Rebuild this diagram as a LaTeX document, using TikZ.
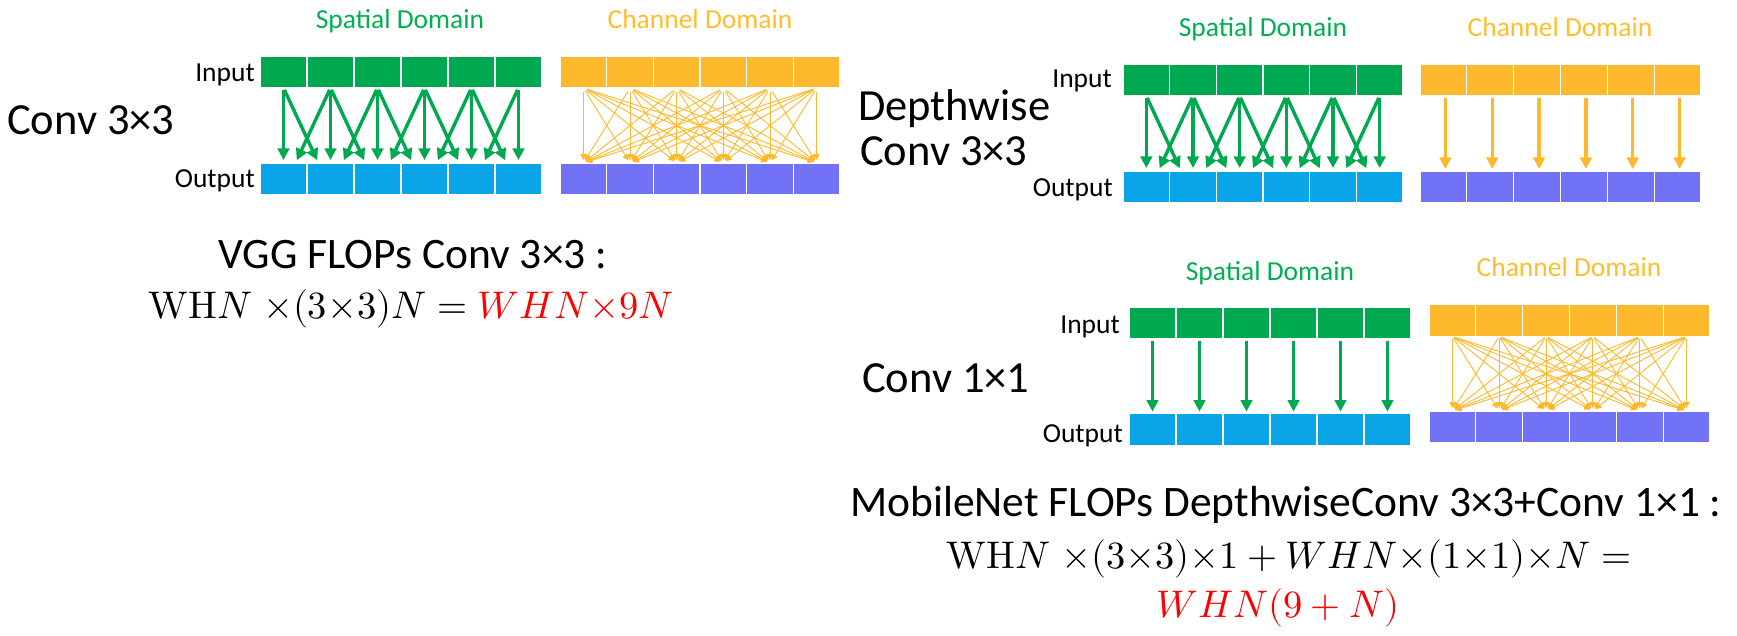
\documentclass[tikz,border=0pt]{standalone}
\usepackage{fontspec}
\usepackage{unicode-math}
\setmainfont{Carlito}
\usetikzlibrary{arrows.meta}
\definecolor{gbar}{HTML}{00A84F}
\definecolor{bbar}{HTML}{0AA5E8}
\definecolor{obar}{HTML}{FDB92B}
\definecolor{pbar}{HTML}{7272F7}
\definecolor{gtext}{HTML}{00B050}
\definecolor{otext}{HTML}{FFBE2E}
\begin{document}
\begin{tikzpicture}[x=1pt,y=-1pt,
  cell/.style={rectangle, minimum height=32pt, inner sep=0pt, outer sep=0pt, draw=white, line width=1.2pt},
  lbl/.style={font=\fontsize{27.5}{31}\selectfont, inner sep=0pt},
  big/.style={font=\fontsize{44.5}{50}\selectfont, inner sep=0pt},
  ftext/.style={font=\fontsize{43.5}{48}\selectfont, inner sep=0pt},
  fmath/.style={font=\fontsize{38.5}{44}\selectfont, inner sep=0pt},
  bigarrow/.style={line width=3.4pt, -{Triangle[width=11.5pt,length=11.5pt]}},
  finearrow/.style={line width=0.9pt, obar, -{Triangle[width=6pt,length=6pt]}},
]
\useasboundingbox (0,0) rectangle (1737,636);
% ---------- bars ----------
\foreach \i in {1,...,6} {
  % panel 1
  \node[cell, fill=gbar, minimum width=47pt] (As\i) at ({260+47*(\i-0.5)},72) {};
  \node[cell, fill=bbar, minimum width=47pt] (Bs\i) at ({260+47*(\i-0.5)},179) {};
  \node[cell, fill=obar, minimum width=46.7pt] (Ac\i) at ({560+46.67*(\i-0.5)},72) {};
  \node[cell, fill=pbar, minimum width=46.7pt] (Bc\i) at ({560+46.67*(\i-0.5)},179) {};
  % panel 2
  \node[cell, fill=gbar, minimum width=46.7pt] (Cs\i) at ({1123+46.67*(\i-0.5)},80) {};
  \node[cell, fill=bbar, minimum width=46.7pt] (Ds\i) at ({1123+46.67*(\i-0.5)},187) {};
  \node[cell, fill=obar, minimum width=46.8pt] (Cc\i) at ({1420+46.83*(\i-0.5)},80) {};
  \node[cell, fill=pbar, minimum width=46.8pt] (Dc\i) at ({1420+46.83*(\i-0.5)},187) {};
  % panel 3
  \node[cell, fill=gbar, minimum width=47pt] (Es\i) at ({1129+47*(\i-0.5)},323) {};
  \node[cell, fill=bbar, minimum width=47pt] (Fs\i) at ({1129+47*(\i-0.5)},429.5) {};
  \node[cell, fill=obar, minimum width=46.8pt] (Ec\i) at ({1429+46.83*(\i-0.5)},320.5) {};
  \node[cell, fill=pbar, minimum width=46.8pt] (Fc\i) at ({1429+46.83*(\i-0.5)},427) {};
}
% ---------- panel 1 arrows ----------
\foreach \i in {1,...,6}
  \draw[bigarrow, gbar, shorten <=2pt, shorten >=3pt] (As\i.south) -- (Bs\i.north);
\foreach \i [evaluate=\i as \j using int(\i+1)] in {1,...,5} {
  \draw[bigarrow, gbar, shorten <=2pt, shorten >=3pt] (As\i.south) -- ([xshift=-12pt]Bs\j.north);
  \draw[bigarrow, gbar, shorten <=2pt, shorten >=3pt] (As\j.south) -- ([xshift=12pt]Bs\i.north);
}
\foreach \i in {1,...,6}
  \foreach \j in {1,...,6}
    \draw[finearrow, shorten <=4pt, shorten >=3pt] (Ac\i.south) -- (Bc\j.north);
% ---------- panel 2 arrows ----------
\foreach \i in {1,...,6}
  \draw[bigarrow, gbar, shorten <=2pt, shorten >=3pt] (Cs\i.south) -- (Ds\i.north);
\foreach \i [evaluate=\i as \j using int(\i+1)] in {1,...,5} {
  \draw[bigarrow, gbar, shorten <=2pt, shorten >=3pt] (Cs\i.south) -- ([xshift=-12pt]Ds\j.north);
  \draw[bigarrow, gbar, shorten <=2pt, shorten >=3pt] (Cs\j.south) -- ([xshift=12pt]Ds\i.north);
}
\foreach \i in {1,...,6}
  \draw[bigarrow, obar, shorten <=2.5pt, shorten >=2pt] ([xshift=2pt]Cc\i.south) -- ([xshift=2pt]Dc\i.north);
% ---------- panel 3 arrows ----------
\foreach \i in {1,...,6}
  \draw[bigarrow, gbar, shorten <=2pt, shorten >=2pt] (Es\i.south) -- (Fs\i.north);
\foreach \i in {1,...,6}
  \foreach \j in {1,...,6}
    \draw[finearrow, shorten <=2pt, shorten >=3pt] (Ec\i.south) -- (Fc\j.north);
% ---------- labels ----------
\node[lbl, anchor=base, text=gtext] (t1s) at (400,29) {Spatial Domain};
\node[lbl, anchor=base, text=otext] (t1c) at (700,29) {Channel Domain};
\node[lbl, anchor=base east] (in1) at (255,82) {Input};
\node[lbl, anchor=base east] (out1) at (255,188) {Output};
\node[big, anchor=base west] (conv33) at (7,135) {Conv 3×3};

\node[lbl, anchor=base, text=gtext] (t2s) at (1263,37) {Spatial Domain};
\node[lbl, anchor=base, text=otext] (t2c) at (1560,37) {Channel Domain};
\node[lbl, anchor=base east] (in2) at (1112,88) {Input};
\node[lbl, anchor=base east] (out2) at (1113,197) {Output};
\node[big, anchor=base west] (dw1) at (858,121) {Depthwise};
\node[big, anchor=base west] (dw2) at (860,166) {Conv 3×3};

\node[lbl, anchor=base, text=gtext] (t3s) at (1270,281) {Spatial Domain};
\node[lbl, anchor=base, text=otext] (t3c) at (1569,277) {Channel Domain};
\node[lbl, anchor=base east] (in3) at (1120,333) {Input};
\node[lbl, anchor=base east] (out3) at (1123,442) {Output};
\node[big, anchor=base west] (c11) at (862,392) {Conv 1×1};
% ---------- formulas ----------
\node[ftext, anchor=base] (vgg1) at (413,269) {VGG FLOPs Conv 3×3 :};
\node[fmath, anchor=base] (vgg2) at (411,318) {$\symup{WH}N\;{\times}(3{\times}3)N = {\color{red}WHN{\times}9N}$};
\node[ftext, anchor=base] (mb1) at (1286,516) {MobileNet FLOPs DepthwiseConv 3×3+Conv 1×1 :};
\node[fmath, anchor=base] (mb2) at (1289,568) {$\symup{WH}N\;{\times}(3{\times}3){\times}1+WHN{\times}(1{\times}1){\times}N=$};
\node[fmath, anchor=base, text=red] (mb3) at (1278,617) {$WHN(9+N)$};
\end{tikzpicture}
\end{document}
